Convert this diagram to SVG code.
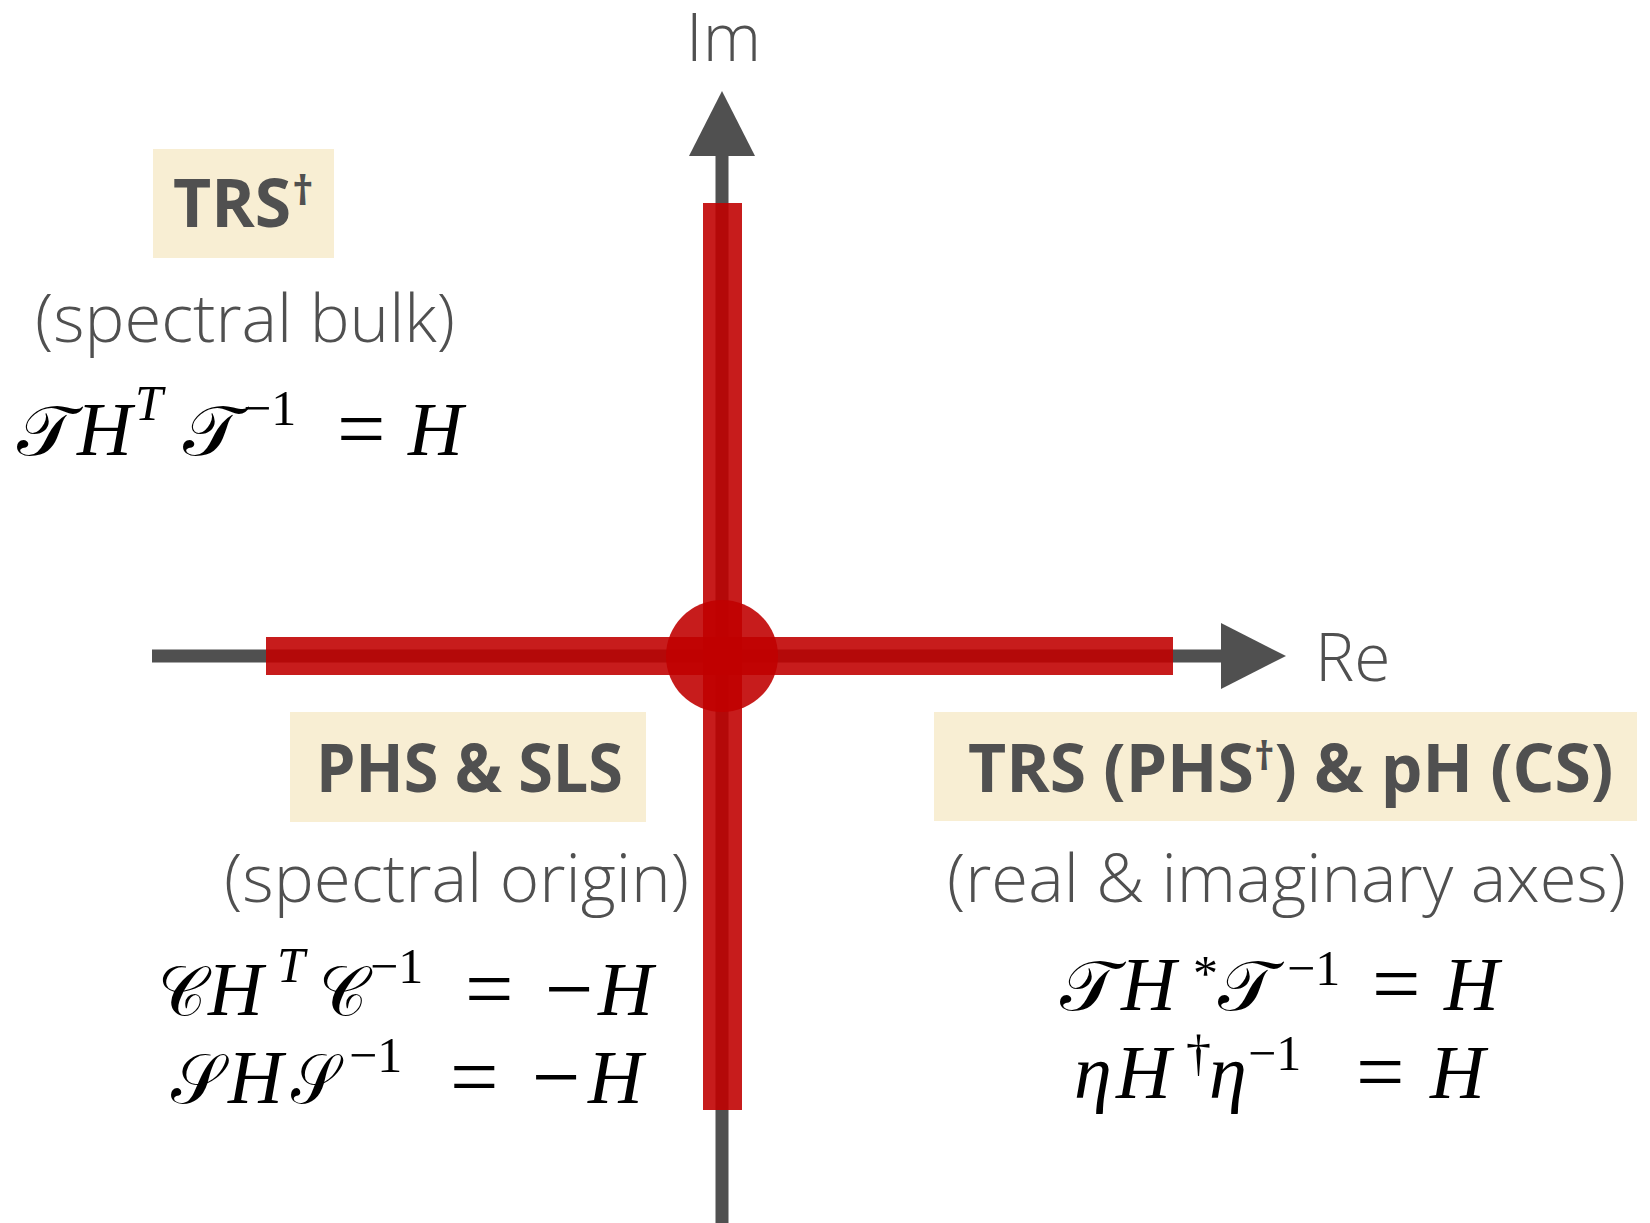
<svg xmlns="http://www.w3.org/2000/svg" width="1650" height="1223" viewBox="0 0 1650 1223">
<style>
.ax{stroke:#505050;stroke-width:13;fill:none}
.red{fill:#C00000;fill-opacity:0.89}
.box{fill:#F8EED3}
.lbl{font-family:"Open Sans","Liberation Sans",sans-serif;font-weight:700;fill:#505050;font-size:66px}
.sub{font-family:"Open Sans","Liberation Sans",sans-serif;font-weight:300;fill:#505050;font-size:66px}
.m{font-family:"Liberation Serif","DejaVu Serif",serif;font-size:76px;fill:#000}
.i{font-style:italic}
.cal{font-family:"DejaVu Serif","DejaVu Sans","Liberation Serif",serif;font-size:70px;fill:#000}
.s{font-size:50px}
.op{font-size:86px}
</style>
<defs>
<marker id="arr" markerUnits="userSpaceOnUse" viewBox="0 0 65 66" refX="0" refY="33" markerWidth="65" markerHeight="66" orient="auto">
<path d="M0,0 L65,33 L0,66 Z" fill="#505050"/>
</marker>
</defs>
<rect width="1650" height="1223" fill="#fff"/>
<g id="connectors">
<line class="ax" x1="722" y1="1223" x2="722" y2="156" marker-end="url(#arr)"/>
<line class="ax" x1="152" y1="656" x2="1221" y2="656" marker-end="url(#arr)"/>
</g>
<g id="spectrum">
<rect class="red" x="703" y="203" width="39" height="907"/>
<rect class="red" x="266" y="637" width="907" height="38"/>
<circle class="red" cx="722" cy="656" r="56"/>
</g>
<g id="axis-labels">
<text class="sub" x="686" y="61">Im</text>
<text class="sub" x="1315" y="681">Re</text>
</g>
<g id="trs-dagger">
<rect class="box" x="153" y="149" width="181" height="109"/>
<text class="lbl" x="173" y="227">TRS<tspan x="292" y="205" font-size="42">†</tspan></text>
<text class="sub" x="35" y="342" textLength="420" lengthAdjust="spacingAndGlyphs">(spectral bulk)</text>
<text class="cal" x="17" y="455" textLength="58" lengthAdjust="spacingAndGlyphs">𝒯</text>
<text class="cal" x="183" y="455" textLength="58" lengthAdjust="spacingAndGlyphs">𝒯</text>
<text class="m" y="455"><tspan class="i" x="77">H</tspan><tspan class="i s" x="135" y="420">T</tspan><tspan class="s" x="243" y="425">−1</tspan><tspan class="op" x="337" y="458">=</tspan><tspan class="i" x="408" y="455">H</tspan></text>
</g>
<g id="phs-sls">
<rect class="box" x="290" y="712" width="356" height="110"/>
<text class="lbl" x="316" y="792" textLength="307" lengthAdjust="spacingAndGlyphs">PHS &amp; SLS</text>
<text class="sub" x="224" y="902" textLength="465" lengthAdjust="spacingAndGlyphs">(spectral origin)</text>
<text class="cal" x="158" y="1015" textLength="48" lengthAdjust="spacingAndGlyphs">𝒞</text>
<text class="cal" x="319" y="1015" textLength="48" lengthAdjust="spacingAndGlyphs">𝒞</text>
<text class="m" y="1015"><tspan class="i" x="208">H</tspan><tspan class="i s" x="277" y="982">T</tspan><tspan class="s" x="370" y="983">−1</tspan><tspan class="op" x="465" y="1018">=</tspan><tspan class="op" x="545">−</tspan><tspan class="i" x="598" y="1015">H</tspan></text>
<text class="cal" x="171" y="1103" textLength="52" lengthAdjust="spacingAndGlyphs">𝒮</text>
<text class="cal" x="291" y="1103" textLength="47" lengthAdjust="spacingAndGlyphs">𝒮</text>
<text class="m" y="1103"><tspan class="i" x="228">H</tspan><tspan class="s" x="349" y="1072">−1</tspan><tspan class="op" x="450" y="1106">=</tspan><tspan class="op" x="532">−</tspan><tspan class="i" x="588" y="1103">H</tspan></text>
</g>
<g id="trs-ph">
<rect class="box" x="934" y="712" width="703" height="109"/>
<text class="lbl" x="968" y="792" font-size="63">TRS (PHS<tspan font-size="40" y="770">†</tspan><tspan y="792">) &amp; pH (CS)</tspan></text>
<text class="sub" x="947" y="902" textLength="679" lengthAdjust="spacingAndGlyphs">(real &amp; imaginary axes)</text>
<text class="cal" x="1060" y="1010" textLength="58" lengthAdjust="spacingAndGlyphs">𝒯</text>
<text class="cal" x="1218" y="1010" textLength="58" lengthAdjust="spacingAndGlyphs">𝒯</text>
<text class="m" y="1010"><tspan class="i" x="1121">H</tspan><tspan class="s" x="1193" y="990">*</tspan><tspan class="s" x="1287" y="985">−1</tspan><tspan class="op" x="1372" y="1013">=</tspan><tspan class="i" x="1444" y="1010">H</tspan></text>
<text class="m" y="1098"><tspan class="i" x="1074">η</tspan><tspan class="i" x="1116">H</tspan><tspan class="s" x="1186" y="1070">†</tspan><tspan class="i" x="1209" y="1098">η</tspan><tspan class="s" x="1248" y="1070">−1</tspan><tspan class="op" x="1356" y="1101">=</tspan><tspan class="i" x="1430" y="1098">H</tspan></text>
</g>
</svg>
